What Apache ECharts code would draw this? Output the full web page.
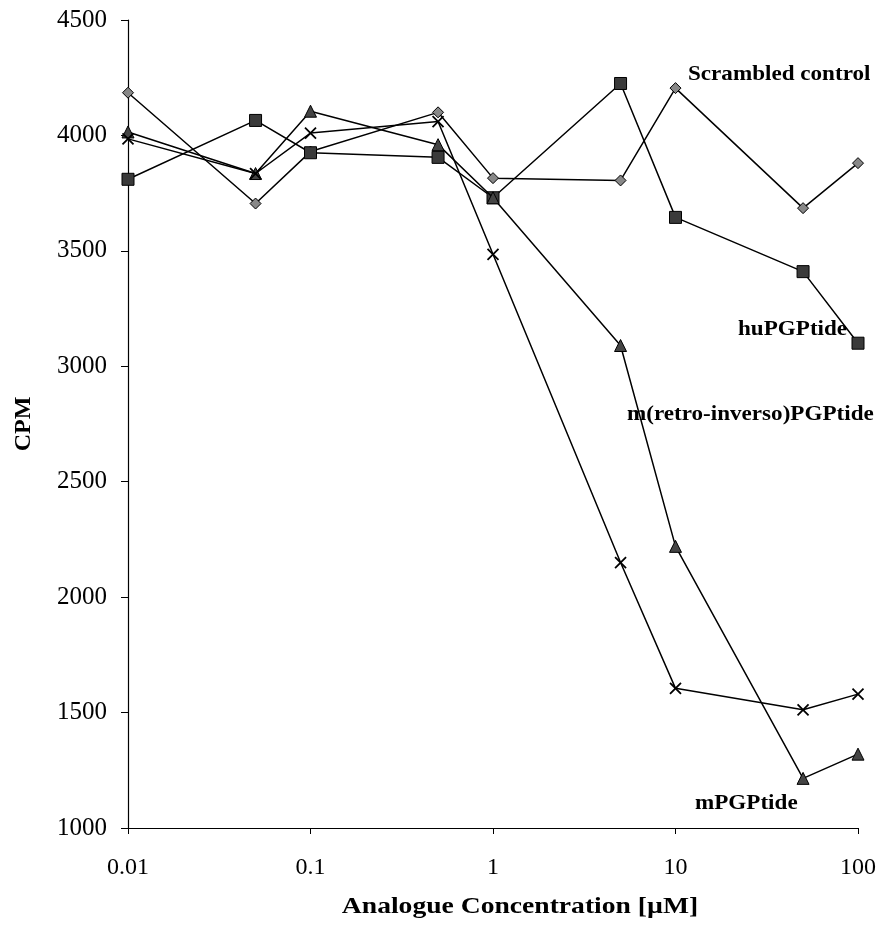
<!DOCTYPE html>
<html><head><meta charset="utf-8">
<script src="https://cdn.jsdelivr.net/npm/echarts@6/dist/echarts.min.js"></script>
<style>html,body{margin:0;padding:0;background:#fff}#c{width:886px;height:927px}</style>
</head><body><div id="c"></div>
<script>
const concentrations = [0.01, 0.05, 0.1, 0.5, 1, 5, 10, 50, 100];
const scrambled = [4185, 3705, 3930, 4100, 3815, 3805, 4205, 3685, 3880];
const huPGPtide = [3810, 4065, 3925, 3905, 3730, 4225, 3645, 3410, 3100];
const triangleSeries = [4015, 3835, 4105, 3960, 3730, 3090, 2220, 1215, 1320];
const crossSeries = [3985, 3835, 4010, 4060, 3485, 2150, 1605, 1512, 1580];
const xTicks = [0.01, 0.1, 1, 10, 100];
const yTicks = [1000, 1500, 2000, 2500, 3000, 3500, 4000, 4500];
const annotations = ['Scrambled control', 'huPGPtide', 'm(retro-inverso)PGPtide', 'mPGPtide'];
const xTitle = 'Analogue Concentration [\u00b5M]';
const yTitle = 'CPM';

const pair = arr => concentrations.map((x, i) => [x, arr[i]]);
const serif = '"Liberation Serif","DejaVu Serif",serif';
const chart = echarts.init(document.getElementById('c'), null, {renderer: 'canvas'});
const lineStyle = {color: '#000', width: 1.5};
function mk(name, data, symbol, size, fill, z) {
  return {
    name, type: 'line', data: pair(data), symbol, symbolSize: size,
    lineStyle, itemStyle: {color: fill, borderColor: '#000', borderWidth: 1}, z, animation: false
  };
}
const crossPath = 'path://M0,0 L10,10 M10,0 L0,10';
function note(text, x, y, align) {
  return {type: 'text', x, y, scaleX: 1.1, z: 50,
    style: {text, font: 'bold 21px ' + serif, fill: '#000', textAlign: align || 'left', textVerticalAlign: 'middle'}};
}
chart.setOption({
  animation: false,
  grid: {left: 128, right: 28, top: 20, bottom: 99},
  xAxis: {
    type: 'log', logBase: 10, min: 0.01, max: 100,
    axisLine: {show: true, lineStyle: {color: '#000', width: 1.2}},
    axisTick: {show: true, length: 6, lineStyle: {color: '#000'}},
    splitLine: {show: false}, minorTick: {show: false},
    axisLabel: {
      color: '#000', fontFamily: serif, fontSize: 24, margin: 28,
      formatter: v => { const t = xTicks.find(k => Math.abs(Math.log10(k) - Math.log10(v)) < 1e-6); return t !== undefined ? String(t) : ''; }
    }
  },
  yAxis: {
    type: 'value', min: 1000, max: 4500, interval: 500,
    axisLine: {show: true, lineStyle: {color: '#000', width: 1.2}},
    axisTick: {show: true, length: 7, lineStyle: {color: '#000'}},
    splitLine: {show: false},
    axisLabel: {color: '#000', fontFamily: serif, fontSize: 25, margin: 21,
      formatter: v => yTicks.includes(v) ? String(v) : ''},
    name: yTitle, nameLocation: 'middle', nameGap: 92, nameRotate: 90,
    nameTextStyle: {color: '#000', fontFamily: serif, fontSize: 24, fontWeight: 'bold'}
  },
  series: [
    mk('Scrambled control', scrambled, 'diamond', 11, '#888', 3),
    mk('huPGPtide', huPGPtide, 'rect', 12, '#3a3a3a', 4),
    mk('m(retro-inverso)PGPtide', triangleSeries, 'triangle', 12, '#444', 5),
    {name: 'mPGPtide', type: 'line', data: pair(crossSeries), symbol: crossPath, symbolSize: 11,
     lineStyle, itemStyle: {color: 'none', borderColor: '#000', borderWidth: 1.8}, z: 6, animation: false}
  ],
  graphic: [
    note(annotations[0], 688, 75),
    note(annotations[1], 738, 330),
    note(annotations[2], 627, 415),
    note(annotations[3], 695, 804),
    {type: 'text', x: 520, y: 907, scaleX: 1.2, z: 50,
     style: {text: xTitle, font: 'bold 23px ' + serif, fill: '#000', textAlign: 'center', textVerticalAlign: 'middle'}}
  ]
});
</script></body></html>
